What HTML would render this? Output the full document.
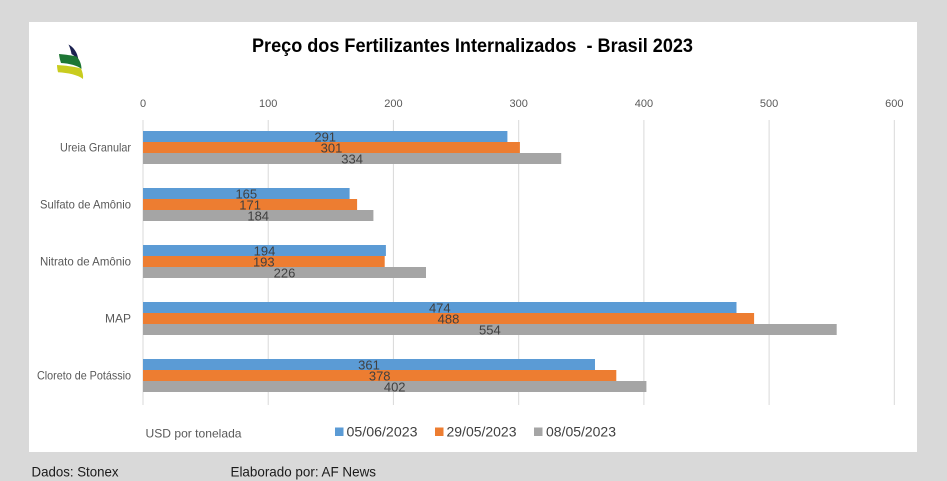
<!DOCTYPE html>
<html>
<head>
<meta charset="utf-8">
<style>
html,body{margin:0;padding:0;background:#d9d9d9;}
svg{display:block;}
text{font-family:"Liberation Sans",Arial,sans-serif;}
</style>
</head>
<body>
<svg width="947" height="481" viewBox="0 0 947 481" xmlns="http://www.w3.org/2000/svg">
  <rect x="0" y="0" width="947" height="481" fill="#d9d9d9"/>
  <rect x="29" y="22" width="888" height="430" fill="#ffffff"/>

  <!-- logo -->
  <path d="M68.5,44.5 C73,47 77.5,51.5 78.5,60.5 C76.5,57.5 74,55.5 71.5,54 C71,51 70,47.5 68.5,44.5 Z" fill="#1b2150"/>
  <path d="M59,54 C66,54.5 72,55.5 76.5,56.5 C79.5,59.5 81.5,64 81.5,69 C77.5,65.5 69.5,63.5 61,63 C60,60 59.3,57 59,54 Z" fill="#1d7634"/>
  <path d="M57,65 C65,65.5 74,66.5 81,68.5 C82.5,72 83.5,75.5 83,79 C78,75 68,72.8 58,72.3 C57.5,70 57,67.5 57,65 Z" fill="#c9cc1f"/>

  <!-- title -->
  <text x="252" y="52" font-size="19" font-weight="bold" fill="#000" textLength="441" lengthAdjust="spacingAndGlyphs" xml:space="preserve">Preço dos Fertilizantes Internalizados  - Brasil 2023</text>

  <!-- gridlines -->
  <g stroke="#d9d9d9" stroke-width="1">
    <line x1="143" y1="120" x2="143" y2="405"/>
    <line x1="268.2" y1="120" x2="268.2" y2="405"/>
    <line x1="393.4" y1="120" x2="393.4" y2="405"/>
    <line x1="518.7" y1="120" x2="518.7" y2="405"/>
    <line x1="643.9" y1="120" x2="643.9" y2="405"/>
    <line x1="769.1" y1="120" x2="769.1" y2="405"/>
    <line x1="894.3" y1="120" x2="894.3" y2="405"/>
  </g>

  <!-- tick labels -->
  <g font-size="11" fill="#595959" text-anchor="middle">
    <text x="143" y="107">0</text>
    <text x="268.2" y="107">100</text>
    <text x="393.4" y="107">200</text>
    <text x="518.7" y="107">300</text>
    <text x="643.9" y="107">400</text>
    <text x="769.1" y="107">500</text>
    <text x="894.3" y="107">600</text>
  </g>

  <!-- category labels -->
  <g font-size="12" fill="#595959" text-anchor="end">
    <text x="131" y="151.5" textLength="71" lengthAdjust="spacingAndGlyphs">Ureia Granular</text>
    <text x="131" y="208.5" textLength="91" lengthAdjust="spacingAndGlyphs">Sulfato de Amônio</text>
    <text x="131" y="265.5" textLength="91" lengthAdjust="spacingAndGlyphs">Nitrato de Amônio</text>
    <text x="131" y="322.5">MAP</text>
    <text x="131" y="379.5" textLength="94" lengthAdjust="spacingAndGlyphs">Cloreto de Potássio</text>
  </g>

  <!-- bars -->
  <g>
    <rect x="143" y="131" width="364.4" height="11" fill="#5b9bd5"/>
    <rect x="143" y="142" width="376.9" height="11" fill="#ed7d31"/>
    <rect x="143" y="153" width="418.2" height="11" fill="#a5a5a5"/>
    <rect x="143" y="188" width="206.6" height="11" fill="#5b9bd5"/>
    <rect x="143" y="199" width="214.1" height="11" fill="#ed7d31"/>
    <rect x="143" y="210" width="230.4" height="11" fill="#a5a5a5"/>
    <rect x="143" y="245" width="242.9" height="11" fill="#5b9bd5"/>
    <rect x="143" y="256" width="241.7" height="11" fill="#ed7d31"/>
    <rect x="143" y="267" width="283.0" height="11" fill="#a5a5a5"/>
    <rect x="143" y="302" width="593.5" height="11" fill="#5b9bd5"/>
    <rect x="143" y="313" width="611.1" height="11" fill="#ed7d31"/>
    <rect x="143" y="324" width="693.7" height="11" fill="#a5a5a5"/>
    <rect x="143" y="359" width="452.0" height="11" fill="#5b9bd5"/>
    <rect x="143" y="370" width="473.3" height="11" fill="#ed7d31"/>
    <rect x="143" y="381" width="503.4" height="11" fill="#a5a5a5"/>
  </g>

  <!-- value labels -->
  <g font-size="13" fill="#404040" text-anchor="middle">
    <text x="325.2" y="141.5">291</text>
    <text x="331.5" y="152.5">301</text>
    <text x="352.1" y="163.5">334</text>
    <text x="246.3" y="198.5">165</text>
    <text x="250.1" y="209.5">171</text>
    <text x="258.2" y="220.5">184</text>
    <text x="264.5" y="255.5">194</text>
    <text x="263.8" y="266.5">193</text>
    <text x="284.5" y="277.5">226</text>
    <text x="439.8" y="312.5">474</text>
    <text x="448.5" y="323.5">488</text>
    <text x="489.9" y="334.5">554</text>
    <text x="369.0" y="369.5">361</text>
    <text x="379.7" y="380.5">378</text>
    <text x="394.7" y="391.5">402</text>
  </g>

  <!-- axis title -->
  <text x="145.5" y="437.5" font-size="12" fill="#595959" textLength="96" lengthAdjust="spacingAndGlyphs">USD por tonelada</text>

  <!-- legend -->
  <rect x="335" y="427.5" width="8.5" height="8.5" fill="#5b9bd5"/>
  <text x="346.5" y="436.7" font-size="14" fill="#404040" textLength="71" lengthAdjust="spacingAndGlyphs">05/06/2023</text>
  <rect x="435" y="427.5" width="8.5" height="8.5" fill="#ed7d31"/>
  <text x="446.5" y="436.7" font-size="14" fill="#404040" textLength="70" lengthAdjust="spacingAndGlyphs">29/05/2023</text>
  <rect x="534" y="427.5" width="8.5" height="8.5" fill="#a5a5a5"/>
  <text x="546" y="436.7" font-size="14" fill="#404040" textLength="70" lengthAdjust="spacingAndGlyphs">08/05/2023</text>

  <!-- footer -->
  <text x="31.5" y="476.5" font-size="14" fill="#1a1a1a" textLength="87" lengthAdjust="spacingAndGlyphs">Dados: Stonex</text>
  <text x="230.5" y="476.5" font-size="14" fill="#1a1a1a" textLength="145.5" lengthAdjust="spacingAndGlyphs">Elaborado por: AF News</text>
</svg>
</body>
</html>
